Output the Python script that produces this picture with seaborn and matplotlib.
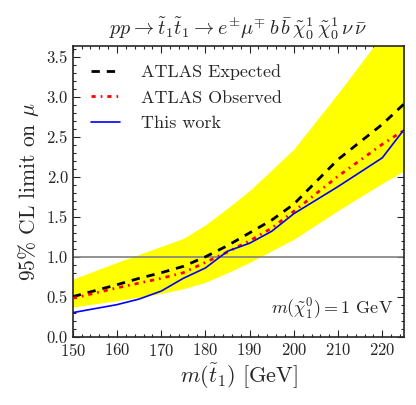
import numpy as np
import pandas as pd
import matplotlib
matplotlib.use("Agg")
import matplotlib.pyplot as plt
from matplotlib.ticker import MultipleLocator
import seaborn as sns

# stop mass points (GeV)
mass = [150, 160, 165, 170, 175, 180, 185, 190, 195, 200, 210, 220, 225]
expected = [0.50, 0.65, 0.73, 0.80, 0.88, 1.00, 1.14, 1.30, 1.46, 1.66, 2.22, 2.66, 2.92]
observed = [0.48, 0.61, 0.67, 0.73, 0.80, 0.93, 1.06, 1.20, 1.36, 1.57, 2.01, 2.41, 2.59]
this_work = [0.30, 0.40, 0.47, 0.57, 0.73, 0.86, 1.07, 1.17, 1.32, 1.54, 1.88, 2.24, 2.60]

# +-1 sigma band on expected
band_mass = [150, 160, 170, 175, 180, 185, 190, 200, 210, 220, 225]
band_lo = [0.37, 0.45, 0.54, 0.60, 0.68, 0.80, 0.93, 1.22, 1.58, 1.92, 2.08]
band_hi = [0.72, 0.93, 1.13, 1.23, 1.40, 1.61, 1.83, 2.35, 3.05, 3.78, 4.15]

df = pd.DataFrame({"mass": mass, "expected": expected,
                   "observed": observed, "this_work": this_work})

sns.set_style("ticks")
plt.rcParams["font.family"] = "serif"
plt.rcParams["font.serif"] = ["cmr10"]
plt.rcParams["mathtext.fontset"] = "cm"
plt.rcParams["axes.formatter.use_mathtext"] = True
plt.rcParams["axes.unicode_minus"] = False

fig = plt.figure(figsize=(4.16, 4.05), dpi=100)
ax = fig.add_axes([0.175, 0.169, 0.797, 0.717])

ax.fill_between(band_mass, band_lo, band_hi, color="yellow", lw=0, zorder=1)
ax.axhline(1.0, color="gray", lw=1.2, zorder=2)

sns.lineplot(data=df, x="mass", y="expected", ax=ax, color="black", lw=2,
             label="ATLAS Expected", zorder=3)
sns.lineplot(data=df, x="mass", y="observed", ax=ax, color="red", lw=2,
             label="ATLAS Observed", zorder=3)
sns.lineplot(data=df, x="mass", y="this_work", ax=ax, color="blue", lw=1.2,
             label="This work", zorder=4)
ax.lines[1].set_dashes([3, 2.5])
ax.lines[2].set_dashes([1.5, 1.8, 0.6, 1.8])

ax.set_xlim(150, 225)
ax.set_ylim(0, 3.64)
ax.xaxis.set_major_locator(MultipleLocator(10))
ax.xaxis.set_minor_locator(MultipleLocator(2))
ax.yaxis.set_major_locator(MultipleLocator(0.5))
ax.yaxis.set_minor_locator(MultipleLocator(0.1))
ax.yaxis.set_major_formatter(matplotlib.ticker.FormatStrFormatter("%.1f"))
ax.tick_params(which="both", direction="in", top=True, right=True,
               labelsize=12, width=0.8)
ax.tick_params(which="major", length=5)
ax.tick_params(which="minor", length=2.5)
ax.tick_params(axis="x", pad=4)
for s in ax.spines.values():
    s.set_linewidth(1.2)
    s.set_visible(True)

ax.set_xlabel(r"$m(\tilde{t}_1)$ [GeV]", fontsize=16, labelpad=2)
ax.set_ylabel(r"95% CL limit on $\mu$", fontsize=15.5)
ax.set_title(r"$pp \to \tilde{t}_1\tilde{t}_1 \to e^{\pm}\mu^{\mp}\, b\,\bar{b}\,"
             r"\tilde{\chi}_0^1\,\tilde{\chi}_0^1\,\nu\,\bar{\nu}$", fontsize=14.5, pad=8)
ax.text(0.965, 0.05, r"$m(\tilde{\chi}_1^0) = 1$ GeV", transform=ax.transAxes,
        ha="right", va="bottom", fontsize=13)

leg = ax.legend(loc="upper left", frameon=False, fontsize=13,
                handlelength=1.6, handletextpad=1.2, borderaxespad=0.6,
                labelspacing=0.55)

fig.savefig("out.png", dpi=100)
